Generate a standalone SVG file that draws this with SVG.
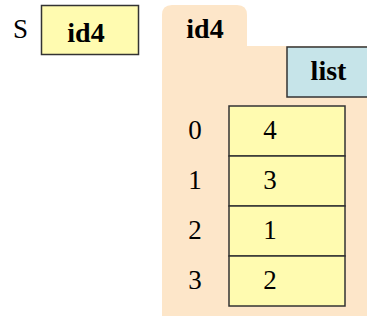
<svg xmlns="http://www.w3.org/2000/svg" width="367" height="320" viewBox="0 0 367 320">
  <style>
    .t { font-family: "Liberation Serif", "Times New Roman", serif; fill: #000; }
    .b { font-weight: bold; font-size: 28px; text-anchor: middle; }
    .n { font-size: 27px; text-anchor: middle; }
    .var { fill: #fffbb0; stroke: #333; stroke-width: 1.5; }
    .cell { fill: #fffbb0; stroke: #333; stroke-width: 1.5; }
    .tag { fill: #c6e4e9; stroke: #333; stroke-width: 1.5; }
    .folder { fill: #fde6c9; }
  </style>

  <!-- variable S -->
  <g id="var-S">
    <text class="t" x="13" y="38" font-size="27">S</text>
    <rect class="var" x="41.5" y="5.5" width="97" height="49"/>
    <text class="t b" x="86" y="42">id4</text>
  </g>

  <!-- folder id4 holding the list -->
  <g id="folder-id4">
    <path class="folder" d="M162 46 V15 Q162 5 172 5 H237 Q247 5 247 15 V46 H367 V316 H162 Z"/>
    <text class="t b" x="205" y="38">id4</text>
    <rect class="tag" x="287" y="47" width="85" height="50"/>
    <text class="t b" x="328.5" y="80">list</text>
  </g>

  <!-- list cells -->
  <g id="cells">
    <rect class="cell" x="229" y="106" width="116" height="50"/>
    <rect class="cell" x="229" y="156" width="116" height="50"/>
    <rect class="cell" x="229" y="206" width="116" height="50"/>
    <rect class="cell" x="229" y="256" width="116" height="50"/>
    <text class="t n" x="195" y="139">0</text>
    <text class="t n" x="195" y="189">1</text>
    <text class="t n" x="195" y="239">2</text>
    <text class="t n" x="195" y="289">3</text>
    <text class="t n" x="270" y="139">4</text>
    <text class="t n" x="270" y="189">3</text>
    <text class="t n" x="270" y="239">1</text>
    <text class="t n" x="270" y="289">2</text>
  </g>

  <g id="connectors"/>
</svg>
